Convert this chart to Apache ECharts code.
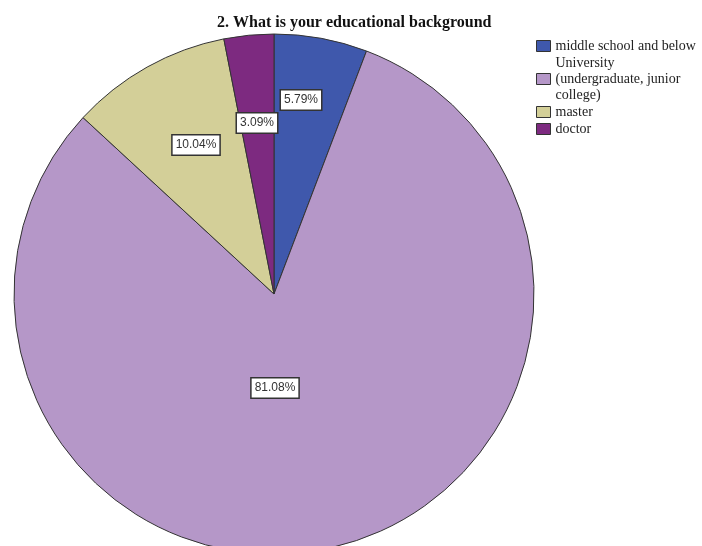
<!DOCTYPE html>
<html>
<head>
<meta charset="utf-8">
<script src="https://cdn.jsdelivr.net/npm/echarts@6/dist/echarts.min.js"></script>
<style>
  html, body { margin: 0; padding: 0; background: #fff; }
  #chart { width: 702px; height: 546px; }
</style>
</head>
<body>
<div id="chart"></div>
<script>
// data (percent of respondents)
const categories = ["middle school and below", "University (undergraduate, junior college)", "master", "doctor"];
const legendNames = ["middle school and below", "University\n(undergraduate, junior\ncollege)", "master", "doctor"];
const values = [5.79, 81.08, 10.04, 3.09];
const colors = ["#3f58ac", "#b597c8", "#d3cf98", "#7d2a80"];

// where SPSS put the percentage boxes (pixel offsets from pie centre)
const labelOffsets = [[27, -194], [1, 94], [-78, -149], [-17, -171]];

const center = [274, 294];
const radius = 260;

let myChart = echarts.init(document.getElementById("chart"));
myChart.setOption({
  animation: false,
  title: {
    text: "2. What is your educational background",
    left: 212,
    top: 10,
    textStyle: {
      fontFamily: "Liberation Serif",
      fontWeight: "bold",
      fontSize: 16,
      color: "#111"
    }
  },
  legend: {
    orient: "vertical",
    left: 531,
    top: 33,
    itemGap: 1,
    itemWidth: 14,
    itemHeight: 11,
    icon: "rect",
    data: categories,
    formatter: (name) => legendNames[categories.indexOf(name)],
    itemStyle: { borderColor: "#333", borderWidth: 1 },
    textStyle: {
      fontFamily: "Liberation Serif",
      fontSize: 14,
      lineHeight: 16,
      color: "#222"
    }
  },
  series: [
    {
      type: "pie",
      center: center,
      radius: radius,
      startAngle: 90,
      clockwise: true,
      silent: true,
      data: categories.map((c, i) => ({
        name: c,
        value: values[i],
        itemStyle: { color: colors[i] }
      })),
      itemStyle: { borderColor: "#333", borderWidth: 1 },
      label: {
        show: true,
        position: "inside",
        formatter: (p) => p.value.toFixed(2) + "%",
        fontFamily: "Liberation Sans",
        fontSize: 12,
        color: "#333",
        backgroundColor: "#fff",
        borderColor: "#333",
        borderWidth: 1.5,
        padding: [4, 3, 3, 3]
      },
      labelLine: { show: false },
      labelLayout: (params) => {
        const o = labelOffsets[params.dataIndex];
        return { x: center[0] + o[0], y: center[1] + o[1] };
      }
    }
  ]
});
myChart.resize();
</script>
</body>
</html>
